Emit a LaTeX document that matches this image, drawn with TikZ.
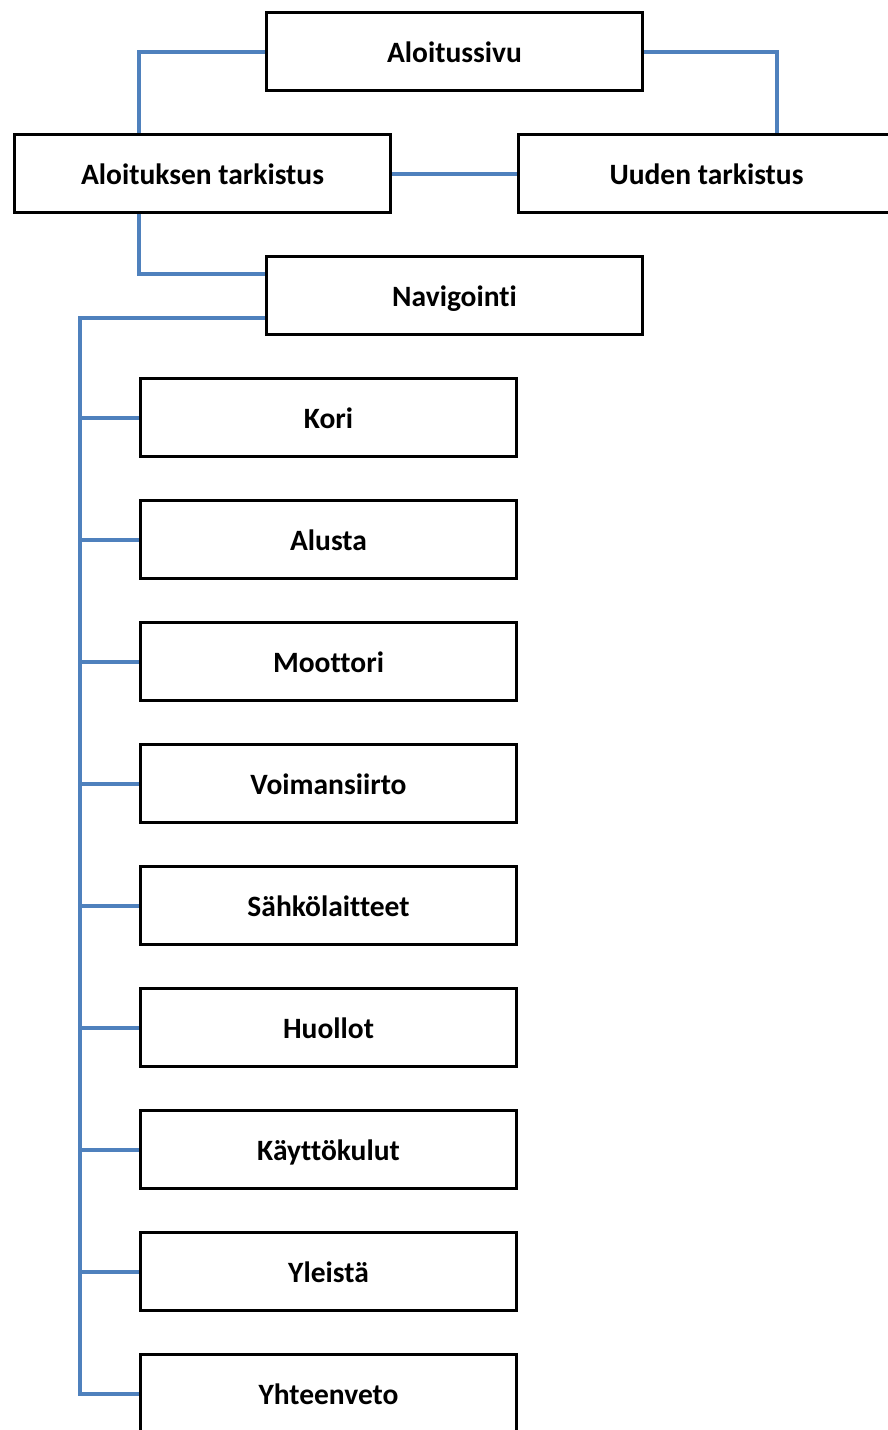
\documentclass[tikz,border=0pt]{standalone}
\usepackage{fontspec}
\setmainfont{Carlito}[RawFeature={-liga}]
\usetikzlibrary{backgrounds}
\definecolor{linkblue}{HTML}{4F81BD}
\tikzset{
  box/.style={draw=black, line width=3pt, fill=white, minimum width=376pt, minimum height=78pt, inner sep=0pt, font=\fontsize{29.5}{34}\selectfont\bfseries, text=black, text height=21pt, text depth=0pt},
  conn/.style={draw=linkblue, line width=4pt}
}
\begin{document}
\begin{tikzpicture}[x=1pt,y=-1pt]
\useasboundingbox (0,0) rectangle (887,1430);
\node[box] (alo) at (454.5,51.5) {Aloitussivu};
\node[box] (at) at (202.5,173.5) {Aloituksen tarkistus};
\node[box] (ut) at (706.5,173.5) {Uuden tarkistus};
\node[box] (nav) at (454.5,295.5) {Navigointi};
\node[box] (kori) at (328.5,417.5) {Kori};
\node[box] (alusta) at (328.5,539.5) {Alusta};
\node[box] (moot) at (328.5,661.5) {Moottori};
\node[box] (voim) at (328.5,783.5) {Voimansiirto};
\node[box] (sahko) at (328.5,905.5) {Sähkölaitteet};
\node[box] (huol) at (328.5,1027.5) {Huollot};
\node[box] (kayt) at (328.5,1149.5) {Käyttökulut};
\node[box] (yle) at (328.5,1271.5) {Yleistä};
\node[box] (yht) at (328.5,1393.5) {Yhteenveto};
\coordinate (bus) at (80,0);
\begin{scope}[on background layer]
\draw[conn] (alo.west) -| ([xshift=126pt]at.north west);
\draw[conn] (alo.east) -| ([xshift=260pt]ut.north west);
\draw[conn] (at.east) -- (ut.west);
\draw[conn] ([xshift=126pt]at.south west) |- ([yshift=21.5pt]nav.west);
\draw[conn] ([yshift=-22.5pt]nav.west) -| (bus |- yht.west) -- (yht.west);
\foreach \n in {kori,alusta,moot,voim,sahko,huol,kayt,yle}
  \draw[conn] (bus |- \n.west) -- (\n.west);
\end{scope}
\end{tikzpicture}
\end{document}
